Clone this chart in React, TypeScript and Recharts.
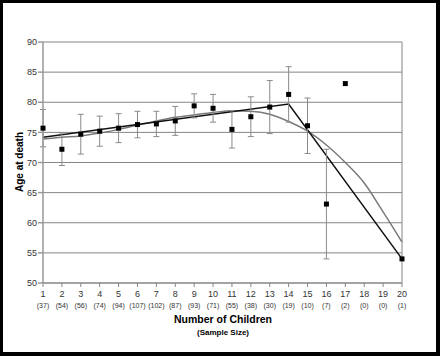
import React from 'react';
import {
  ComposedChart,
  CartesianGrid,
  ErrorBar,
  Line,
  ReferenceLine,
  Scatter,
  XAxis,
  YAxis,
} from 'recharts';

const children = [1, 2, 3, 4, 5, 6, 7, 8, 9, 10, 11, 12, 13, 14, 15, 16, 17, 18, 19, 20];
const sampleSize = [37, 54, 56, 74, 94, 107, 102, 87, 93, 71, 55, 38, 30, 19, 10, 7, 2, 0, 0, 1];
const meanAge = [
  75.7, 72.2, 74.7, 75.2, 75.7, 76.3, 76.4, 76.9, 79.4, 79.0,
  75.5, 77.6, 79.2, 81.3, 76.1, 63.1, 83.1, null, null, 54.0,
];
const ageError = [
  3.1, 2.7, 3.3, 2.5, 2.4, 2.2, 2.1, 2.4, 2.0, 2.3,
  3.1, 3.3, 4.4, 4.6, 4.6, 9.1, 0, null, null, 0,
];
const smoothFit = [
  73.9, 74.2, 74.4, 74.9, 75.5, 76.2, 76.9, 77.5, 77.9, 78.3,
  78.6, 78.5, 78.0, 76.8, 75.2, 72.9, 70.0, 66.6, 61.8, 56.8,
];
const segmentFit = [
  74.2, null, null, null, null, null, null, null, null, null,
  null, null, null, 79.7, null, null, null, null, null, 54.0,
];
const yTicks = [50, 55, 60, 65, 70, 75, 80, 85, 90];

const rows = children.map((x, i) => ({
  x,
  n: sampleSize[i],
  age: meanAge[i],
  err: ageError[i],
  smooth: smoothFit[i],
  segment: segmentFit[i],
}));
const points = rows.filter((r) => r.age != null);

const font = '"Liberation Sans Narrow", "Liberation Sans", Arial, sans-serif';
const gray = '#858585';

function ChildTick({ x, y, payload }: any) {
  const i = children.indexOf(payload.value);
  return (
    <g>
      <text x={x} y={y + 8} textAnchor="middle" fontSize={9} fontFamily={font} fill="#333" stroke="none">
        {payload.value}
      </text>
      <text x={x} y={y + 19} textAnchor="middle" fontSize={7} fontFamily={font} fill="#333" stroke="none">
        ({sampleSize[i]})
      </text>
    </g>
  );
}

const Square = (p: any) => <rect x={p.cx - 2.5} y={p.cy - 2.5} width={5} height={5} fill="#000" />;

export default function App() {
  return (
    <div style={{ position: 'relative', width: 440, height: 356, background: '#000' }}>
      <style>{'body{margin:0}'}</style>
      <div style={{ position: 'absolute', left: 3, top: 3, width: 433, height: 349, background: '#fff' }} />
      <div style={{ position: 'absolute', left: 0, top: 0 }}>
        <ComposedChart width={440} height={356} data={rows} margin={{ top: 42, right: 38, left: 8, bottom: 43 }}>
          <CartesianGrid vertical={false} stroke={gray} strokeDasharray="" />
          <XAxis
            type="number"
            dataKey="x"
            domain={[1, 20]}
            ticks={children}
            interval={0}
            height={30}
            tickSize={4}
            tick={<ChildTick />}
            stroke={gray}
          />
          <YAxis
            domain={[50, 90]}
            ticks={yTicks}
            width={35}
            tickSize={5}
            tickMargin={1}
            interval={0}
            stroke="#999"
            strokeWidth={1.5}
            tick={{ fill: '#333', fontSize: 9, fontFamily: font }}
          />
          <ReferenceLine x={20} stroke={gray} />
          <Line
            dataKey="smooth"
            type="monotone"
            stroke="#7a7a7a"
            strokeWidth={1.5}
            dot={false}
            isAnimationActive={false}
          />
          <Line
            dataKey="segment"
            type="linear"
            connectNulls
            stroke="#111"
            strokeWidth={1.5}
            dot={false}
            isAnimationActive={false}
          />
          <Scatter data={points} dataKey="age" shape={Square} isAnimationActive={false}>
            <ErrorBar dataKey="err" direction="y" width={3} stroke="#8a8a8a" strokeWidth={1} />
          </Scatter>
        </ComposedChart>
      </div>
      <div
        style={{
          position: 'absolute',
          left: 19,
          top: 162,
          transform: 'translate(-50%, -50%) rotate(-90deg)',
          fontFamily: '"Liberation Sans", Arial, sans-serif',
          fontWeight: 'bold',
          fontSize: 10,
          whiteSpace: 'nowrap',
        }}
      >
        Age at death
      </div>
      <div
        style={{
          position: 'absolute',
          left: 0,
          width: 446,
          top: 314,
          textAlign: 'center',
          fontFamily: '"Liberation Sans", Arial, sans-serif',
          fontWeight: 'bold',
          lineHeight: 1,
        }}
      >
        <div style={{ fontSize: 10.5 }}>Number of Children</div>
        <div style={{ fontSize: 8, marginTop: 4 }}>(Sample Size)</div>
      </div>
    </div>
  );
}
